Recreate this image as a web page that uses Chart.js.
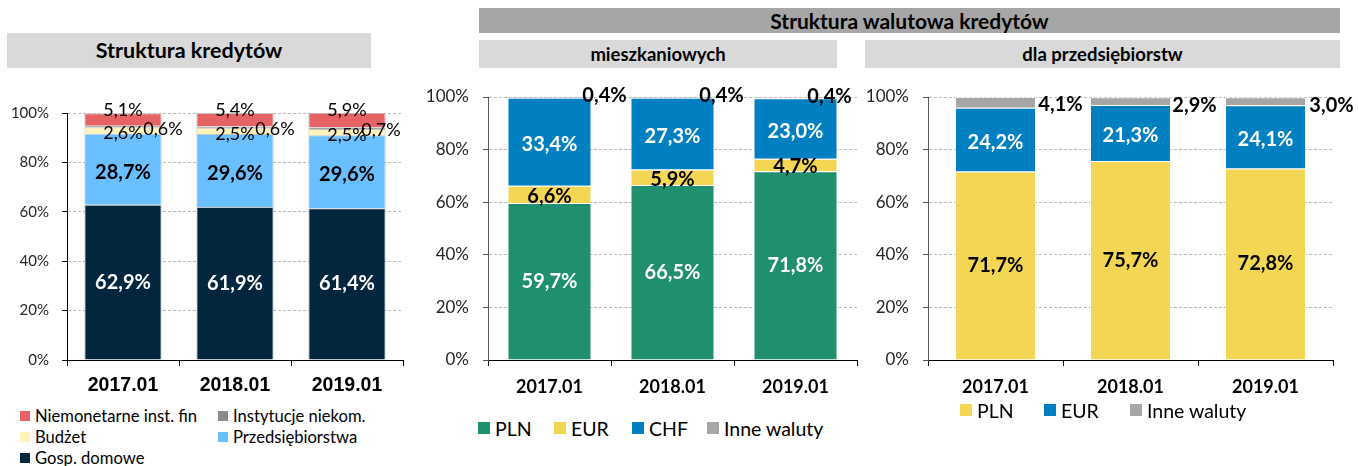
<!DOCTYPE html>
<html lang="pl">
<head>
<meta charset="utf-8">
<script src="https://cdn.jsdelivr.net/npm/chart.js@4.4.1/dist/chart.umd.min.js"></script>
<style>
    html, body { margin: 0; padding: 0; background: #fff; }
    body { width: 1358px; height: 466px; position: relative; overflow: hidden; font-family: Lato, 'Open Sans', sans-serif; }
    .box { position: absolute; font-weight: bold; color: #000; text-align: center; }
    .hdr-main { left: 479px; top: 8px; width: 861px; height: 25px; line-height: 25px; background: #a6a6a6; font-size: 21px; }
    .hdr-sub { top: 40px; height: 28px; line-height: 28px; background: #d9d9d9; font-size: 18.5px; }
    .hdr-left { left: 7px; top: 33px; width: 364px; height: 35px; line-height: 35px; background: #d9d9d9; font-size: 21.5px; }
    .cv { position: absolute; }
    .leg { position: absolute; font-size: 16px; color: #000; white-space: nowrap; }
    .leg i { position: absolute; left: 0; top: 50%; transform: translateY(-50%); }
    .leg span { position: absolute; top: 50%; transform: translateY(-50%); }
</style>
</head>
<body>
<div class="box hdr-left">Struktura kredytów</div>
<div class="box hdr-main">Struktura walutowa kredytów</div>
<div class="box hdr-sub" style="left:479px; width:358px;">mieszkaniowych</div>
<div class="box hdr-sub" style="left:865px; width:475px;">dla przedsiębiorstw</div>

<canvas id="kredytyChart" class="cv" width="420" height="310" style="left:0; top:90px;"></canvas>
<canvas id="mieszChart" class="cv" width="450" height="335" style="left:420px; top:70px;"></canvas>
<canvas id="przedsChart" class="cv" width="498" height="335" style="left:860px; top:70px;"></canvas>
<div id="legends"></div>

<script>
const years = ['2017.01', '2018.01', '2019.01'];
const yTicks = [0, 20, 40, 60, 80, 100];

// Struktura kredytów (%)
const gospDomowe = [62.9, 61.9, 61.4];
const przedsiebiorstwa = [28.7, 29.6, 29.6];
const budzet = [2.6, 2.5, 2.5];
const instytucjeNiekom = [0.6, 0.6, 0.7];
const niemonetarne = [5.1, 5.4, 5.9];

// Struktura walutowa kredytów mieszkaniowych (%)
const mieszPLN = [59.7, 66.5, 71.8];
const mieszEUR = [6.6, 5.9, 4.7];
const mieszCHF = [33.4, 27.3, 23.0];
const mieszInne = [0.4, 0.4, 0.4];

// Struktura walutowa kredytów dla przedsiębiorstw (%)
const przedsPLN = [71.7, 75.7, 72.8];
const przedsEUR = [24.2, 21.3, 24.1];
const przedsInne = [4.1, 2.9, 3.0];

const C = {
    navy: '#03263f', sky: '#69bfff', cream: '#fff2bb', grey: '#8a8a8a', red: '#e66265',
    green: '#1f8f6e', yellow: '#f3d654', blue: '#0080c0', lightGrey: '#a6a6a6'
};

const fmt = v => v.toFixed(1).replace('.', ',') + '%';

// draws the % labels on / next to the bar segments
const valueLabels = {
    id: 'valueLabels',
    afterDatasetsDraw(chart) {
        const ctx = chart.ctx;
        chart.data.datasets.forEach((ds, i) => {
            const lab = ds.valueLabel;
            if (!lab) return;
            const meta = chart.getDatasetMeta(i);
            meta.data.forEach((bar, j) => {
                let x = bar.x;
                let y = (bar.y + bar.base) / 2;
                ctx.save();
                ctx.font = lab.font;
                ctx.fillStyle = lab.color;
                ctx.textAlign = 'center';
                ctx.textBaseline = 'middle';
                if (lab.pos === 'top') {
                    y = bar.y + (lab.dy || 0);
                } else if (lab.pos === 'side') {
                    x = bar.x + lab.dx[j];
                    y = bar.y + (lab.dy || 0);
                } else {
                    y += (lab.dy || 0);
                }
                ctx.fillText(fmt(ds.data[j]), x, y);
                ctx.restore();
            });
        });
    }
};

function makeChart(id, datasets, o) {
    const ctx = document.getElementById(id).getContext('2d');
    return new Chart(ctx, {
        type: 'bar',
        data: { labels: years, datasets: datasets },
        options: {
            responsive: false,
            animation: false,
            devicePixelRatio: 1,
            datasets: { bar: { barPercentage: o.barPct, categoryPercentage: 1 } },
            layout: { padding: { top: o.padTop, right: o.padRight, left: 0, bottom: 0 } },
            plugins: { legend: { display: false }, tooltip: { enabled: false } },
            scales: {
                x: {
                    stacked: true,
                    grid: { drawOnChartArea: false, drawTicks: true, tickLength: 6, tickColor: '#000', offset: true },
                    border: { display: true, color: '#000', width: 1 },
                    ticks: { color: '#000', font: o.xFont, padding: o.xPad, maxRotation: 0 },
                    afterFit: s => { s.height = o.xHeight; }
                },
                y: {
                    stacked: true,
                    min: 0,
                    max: 100,
                    afterBuildTicks: s => { s.ticks = yTicks.map(v => ({ value: v })); },
                    grid: { color: '#b8b8b8', lineWidth: 1, tickLength: 5, tickColor: o.yAxisColor, drawTicks: true },
                    border: { display: true, color: o.yAxisColor, width: 1, dash: [3, 2] },
                    ticks: { color: '#262626', font: o.yFont, padding: o.yPad, callback: v => v + '%' },
                    afterFit: s => { s.width = o.yWidth; }
                }
            }
        },
        plugins: [valueLabels]
    });
}

const bigBold = '700 20px Lato';

// left chart
const kredytySets = [
    { label: 'Gosp. domowe', data: gospDomowe, backgroundColor: C.navy,
      valueLabel: { font: bigBold, color: '#fff' } },
    { label: 'Przedsiębiorstwa', data: przedsiebiorstwa, backgroundColor: C.sky,
      valueLabel: { font: bigBold, color: '#000', dy: 3 } },
    { label: 'Budżet', data: budzet, backgroundColor: C.cream,
      valueLabel: { font: '400 18px Lato', color: '#000', dy: 3 } },
    { label: 'Instytucje niekom.', data: instytucjeNiekom, backgroundColor: C.grey,
      valueLabel: { font: '400 18px Lato', color: '#000', pos: 'side', dx: [40, 40, 34], dy: 3 } },
    { label: 'Niemonetarne inst. fin', data: niemonetarne, backgroundColor: C.red,
      valueLabel: { font: '400 18px Lato', color: '#000', pos: 'top', dy: -3 } }
];
kredytySets.forEach(d => { d.borderColor = '#c4c4c4'; d.borderWidth = 1; });

makeChart('kredytyChart', kredytySets, {
    barPct: 0.69, padTop: 23, padRight: 17, xHeight: 40, yWidth: 67, yAxisColor: '#000',
    xFont: { family: 'Liberation Sans', weight: 'bold', size: 19.5 }, xPad: 8,
    yFont: { family: 'Lato', size: 15 }, yPad: 13
});

// middle chart
const mieszSets = [
    { label: 'PLN', data: mieszPLN, backgroundColor: C.green, valueLabel: { font: bigBold, color: '#fff' } },
    { label: 'EUR', data: mieszEUR, backgroundColor: C.yellow, valueLabel: { font: bigBold, color: '#000', dy: 2 } },
    { label: 'CHF', data: mieszCHF, backgroundColor: C.blue, valueLabel: { font: bigBold, color: '#fff', dy: 3 } },
    { label: 'Inne waluty', data: mieszInne, backgroundColor: C.lightGrey,
      valueLabel: { font: bigBold, color: '#000', pos: 'side', dx: [55, 49, 34], dy: -1 } }
];
mieszSets.forEach(d => { d.borderColor = 'rgba(255,255,255,0.5)'; d.borderWidth = 1; });

makeChart('mieszChart', mieszSets, {
    barPct: 0.683, padTop: 27, padRight: 13, xHeight: 45, yWidth: 68, yAxisColor: '#595959',
    xFont: { family: 'Lato', weight: 'bold', size: 18 }, xPad: 10,
    yFont: { family: 'Lato', size: 17 }, yPad: 14
});

// right chart
const przedsSets = [
    { label: 'PLN', data: przedsPLN, backgroundColor: C.yellow, valueLabel: { font: bigBold, color: '#000' } },
    { label: 'EUR', data: przedsEUR, backgroundColor: C.blue, valueLabel: { font: bigBold, color: '#fff', dy: 3 } },
    { label: 'Inne waluty', data: przedsInne, backgroundColor: C.lightGrey,
      valueLabel: { font: bigBold, color: '#000', pos: 'side', dx: [65, 64, 66], dy: 8 } }
];
przedsSets.forEach(d => { d.borderColor = 'rgba(255,255,255,0.5)'; d.borderWidth = 1; });

makeChart('przedsChart', przedsSets, {
    barPct: 0.6, padTop: 27, padRight: 25, xHeight: 45, yWidth: 68, yAxisColor: '#595959',
    xFont: { family: 'Lato', weight: 'bold', size: 18 }, xPad: 10,
    yFont: { family: 'Lato', size: 17 }, yPad: 14
});

// html legends, built from the dataset labels/colours
function addLegend(items, spots, box, font) {
    const holder = document.getElementById('legends');
    items.forEach((it, k) => {
        const el = document.createElement('div');
        el.className = 'leg';
        el.style.left = spots[k][0] + 'px';
        el.style.top = spots[k][1] + 'px';
        el.style.fontSize = font + 'px';
        const sw = document.createElement('i');
        sw.style.width = box + 'px';
        sw.style.height = box + 'px';
        sw.style.background = it.backgroundColor;
        const tx = document.createElement('span');
        tx.style.left = (box + 5) + 'px';
        tx.textContent = it.label;
        el.appendChild(sw);
        el.appendChild(tx);
        holder.appendChild(el);
    });
}

addLegend(kredytySets.slice().reverse(),
    [[20, 416], [218, 416], [20, 437], [218, 437], [20, 458]], 10, 16.6);
addLegend(mieszSets, [[478, 428], [554, 428], [632, 428], [707, 428]], 12, 19.5);
addLegend(przedsSets, [[960, 410], [1044, 410], [1130, 410]], 12, 19.5);
</script>
</body>
</html>
